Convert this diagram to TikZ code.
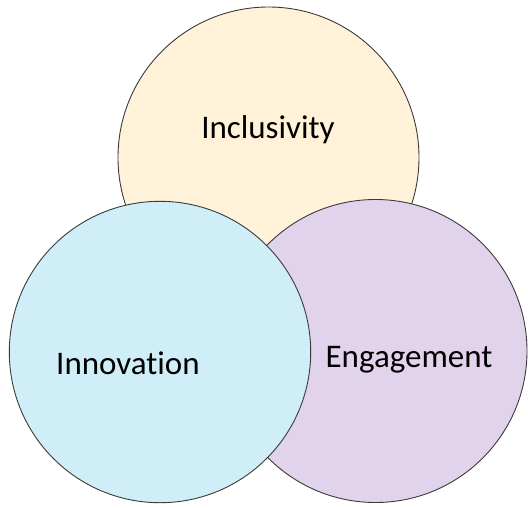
\documentclass[tikz,border=0pt]{standalone}
\usepackage{fontspec}
\setmainfont{Carlito}[Ligatures={NoCommon}]

\definecolor{inclfill}{HTML}{FFF2D9}
\definecolor{innofill}{HTML}{CFEEF7}
\definecolor{engafill}{HTML}{E2D3EC}
\definecolor{rim}{HTML}{3A3A3A}

\tikzset{
  ring/.style={draw=rim,line width=0.9pt},
  tag/.style={font=\fontsize{33}{38}\selectfont,text=black,inner sep=0pt}
}

\begin{document}
\begin{tikzpicture}[x=1pt,y=-1pt]
\useasboundingbox (0,0) rectangle (528,507);

% the three sets, back to front
\filldraw[ring,fill=inclfill] (268.5,157.5) circle (150.5);
\filldraw[ring,fill=engafill] (375.5,351) circle (151.5);
\filldraw[ring,fill=innofill] (160,352) circle (150.7);

\node[tag] (incl) at (268,130) {Inclusivity};
\node[tag] (inno) at (128,363) {Innovation};
\node[tag] (enga) at (409,360) {Engagement};
\end{tikzpicture}
\end{document}
